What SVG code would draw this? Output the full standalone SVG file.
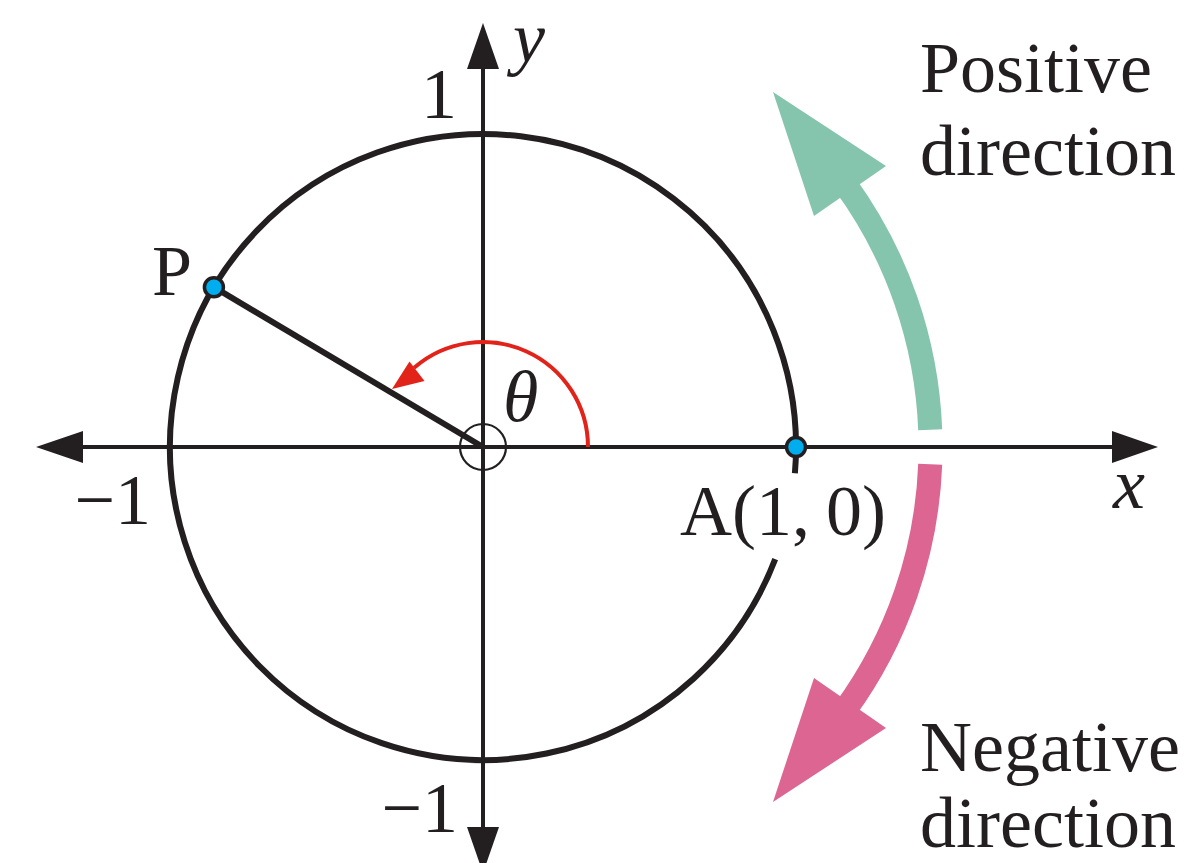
<svg xmlns="http://www.w3.org/2000/svg" width="1200" height="863" viewBox="0 0 1200 863">
<style>
.t{font-family:"Liberation Serif","Times New Roman",serif;font-size:72px;fill:#231F20}
.i{font-style:italic}
.ax{stroke:#231F20;stroke-width:4;fill:none}
.ah{fill:#231F20}
.dot{fill:#00AEEF;stroke:#231F20;stroke-width:3.5}
</style>
<rect width="1200" height="863" fill="#fff"/>
<g id="connectors">
<line class="ax" x1="80" y1="447" x2="1114" y2="447"/>
<polygon class="ah" points="1158,447 1112,431 1112,463"/>
<polygon class="ah" points="36,447 83,431 83,463"/>
<line class="ax" x1="483" y1="66" x2="483" y2="830"/>
<polygon class="ah" points="483,23 467,69 499,69"/>
<polygon class="ah" points="483,873 467,827 499,827"/>
<line id="OP" x1="483" y1="447" x2="213.9" y2="287.2" stroke="#231F20" stroke-width="6"/>
</g>
<g id="unit-circle">
<path d="M 775.21 559.17 A 313 313 0 1 1 794.9 473.19" fill="none" stroke="#231F20" stroke-width="6"/>
</g>
<g id="origin">
<circle cx="483" cy="447" r="23" fill="none" stroke="#231F20" stroke-width="2.2"/>
</g>
<g id="angle-theta">
<path d="M 588 447 A 105 105 0 0 0 414.1 367.8" fill="none" stroke="#E2231A" stroke-width="4"/>
<polygon points="392,389 409.5,361.5 424.5,381" fill="#E2231A"/>
<text class="t i" x="503" y="421">θ</text>
</g>
<g id="point-P">
<circle class="dot" cx="213.9" cy="287.2" r="9.5"/>
<text class="t" x="152" y="295">P</text>
</g>
<g id="point-A">
<circle class="dot" cx="796" cy="447" r="9.5"/>
<text class="t" x="680" y="535">A(1,<tspan dx="16">0)</tspan></text>
</g>
<g id="positive-arrow">
<path d="M 930.2 429.8 A 447.5 447.5 0 0 0 845 183.96" fill="none" stroke="#85C5AD" stroke-width="24"/>
<polygon points="773,92 886,166 814,216" fill="#85C5AD"/>
<text class="t" x="920" y="92">Positive</text>
<text class="t" x="920" y="175">direction</text>
</g>
<g id="negative-arrow">
<path d="M 930.2 464.2 A 447.5 447.5 0 0 1 845 710.04" fill="none" stroke="#DC6591" stroke-width="24"/>
<polygon points="773,802 886,728 814,678" fill="#DC6591"/>
<text class="t" x="920" y="771">Negative</text>
<text class="t" x="920" y="847">direction</text>
</g>
<g id="axis-labels">
<text class="t i" x="513" y="62">y</text>
<text class="t i" x="1113" y="508">x</text>
<text class="t" x="457" y="118" text-anchor="end">1</text>
<text class="t" x="151" y="524" text-anchor="end">−1</text>
<text class="t" x="458" y="832" text-anchor="end">−1</text>
</g>
</svg>
